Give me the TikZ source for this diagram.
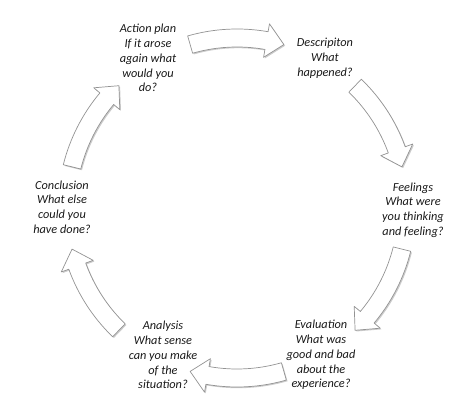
\documentclass[tikz,border=0pt]{standalone}
\usepackage{fontspec}
\setmainfont{Carlito}
\usepackage{tikz}
\usetikzlibrary{calc,shadows}

\begin{document}
\begin{tikzpicture}[x=1pt,y=1pt,
  stage/.style={align=center,font=\fontsize{12.3}{14.8}\selectfont\itshape,text=black!90,inner sep=1pt},
  blk/.style={draw=gray!85,line width=0.7pt,fill=white,line join=round,
    drop shadow={shadow xshift=1.2pt,shadow yshift=-1.2pt,opacity=0.4,fill=gray}}]
\useasboundingbox (0,0) rectangle (474,412);
\coordinate (c) at (237,204);
% stages round the cycle
\node[stage] (actn) at (148,354) {Action plan\\If it arose\\again what\\would you\\do?};
\node[stage] (desc) at (325,354) {Descripiton\\What\\happened?};
\node[stage] (feel) at (413,202) {Feelings\\What were\\you thinking\\and feeling?};
\node[stage] (eval) at (321,57) {Evaluation\\What was\\good and bad\\about the\\experience?};
\node[stage] (anls) at (163,57) {Analysis\\What sense\\can you make\\of the\\situation?};
\node[stage] (conc) at (62,205) {Conclusion\\What else\\could you\\have done?};
% block arrows, clockwise
\foreach \m [evaluate=\m as \s using \m+16, evaluate=\m as \e using \m-16,
             evaluate=\m as \h using \m-10] in {90,30,-30,-90,-150,150}
  \draw[blk] ($(c)+(\s:179)$) arc[start angle=\s,end angle=\h,radius=179]
    -- ($(c)+(\h:187)$) -- ($(c)+(\e:170)$) -- ($(c)+(\h:153)$) -- ($(c)+(\h:161)$)
    arc[start angle=\h,end angle=\s,radius=161] -- cycle;
\end{tikzpicture}
\end{document}
